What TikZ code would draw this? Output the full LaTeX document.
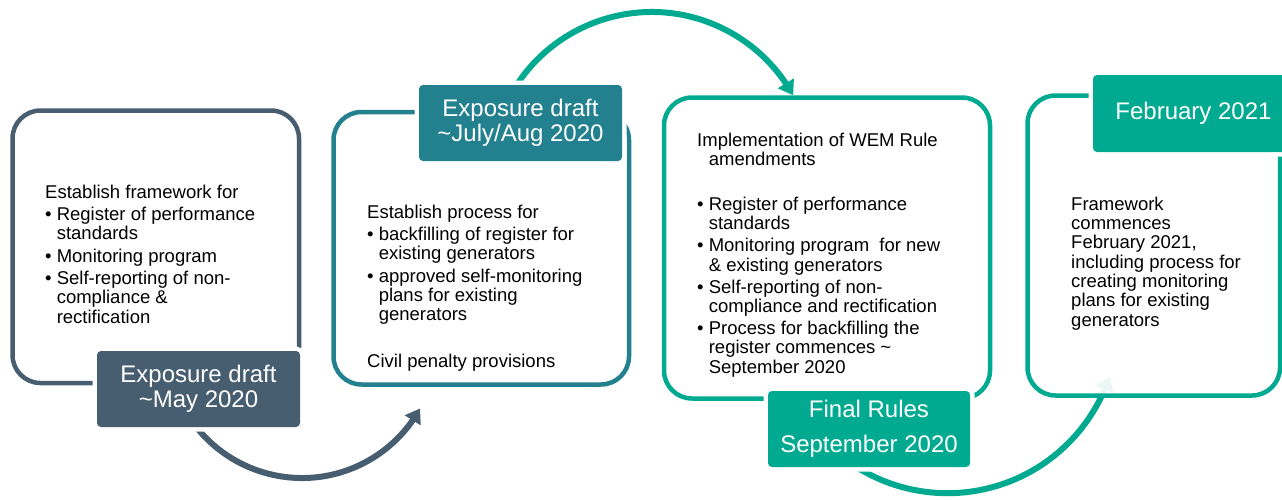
\documentclass[tikz,border=0pt]{standalone}
\usepackage{fontspec}
\setmainfont{Liberation Sans}
\usetikzlibrary{arrows.meta,bending}
\definecolor{slate}{RGB}{71,93,112}
\definecolor{tealb}{RGB}{35,128,143}
\definecolor{grn}{RGB}{0,170,144}
\newcommand{\mybul}{\makebox[11.6pt][l]{\textbullet}}
\newcommand{\myind}{\hspace*{11.6pt}}
\begin{document}
\begin{tikzpicture}[x=1pt,y=-1pt,
  panel/.style={draw=#1, line width=4.5pt, rounded corners=28pt, fill=white, inner sep=0pt},
  datebox/.style={fill=#1, text=white, rounded corners=4pt, inner sep=0pt, align=center,
    font=\fontsize{24pt}{25pt}\selectfont, preaction={draw=white, line width=9pt}},
  body/.style={anchor=north west, inner sep=0pt, align=left, text=black,
    font=\fontsize{18.5pt}{19.3pt}\selectfont},
  curvearrow/.style={draw=#1, line width=6pt, -{Triangle[length=14pt,width=18pt]}}
]
\useasboundingbox (0,0) rectangle (1282,499);
% panels
\node[panel=slate, minimum width=286.5pt, minimum height=272.5pt] (b1) at (155.75,246.75) {};
\node[panel=tealb, minimum width=295.5pt, minimum height=272.5pt] (b2) at (481.25,248.25) {};
\node[panel=grn, minimum width=326pt, minimum height=301pt] (b3) at (827,248) {};
% curved arrows
\coordinate (c1) at (302,343);
\coordinate (c2) at (651.8,173.6);
\coordinate (c3) at (947.4,322.2);
\draw[curvearrow=slate] (c1) ++(148:135) arc[start angle=148, end angle=29, radius=135];
\draw[curvearrow=grn] (c2) ++(205:161.6) arc[start angle=205, end angle=331, radius=161.6];
\draw[curvearrow=grn] (c3) ++(130:171) arc[start angle=130, end angle=18.5, radius=171];
\node[panel=grn, fill opacity=0.92, minimum width=252.5pt, minimum height=300pt] (b4) at (1153.75,245.5) {};
% date labels
\node[datebox=slate, minimum width=203pt, minimum height=76pt] (l1) at (198.5,389) {Exposure draft\\\textasciitilde May 2020};
\node[datebox=tealb, minimum width=203pt, minimum height=76pt] (l2) at (520.5,123) {Exposure draft\\\textasciitilde July/Aug 2020};
\node[datebox=grn, minimum width=202pt, minimum height=76pt] (l3) at (869,429) {Final Rules\\[10pt]September 2020};
\node[datebox=grn, minimum width=201pt, minimum height=77pt] (l4) at (1193.5,113.5) {February 2021};
% texts
\node[body] (t1) at (45,184.5) {\strut Establish framework for\\[3pt]
\mybul Register of performance\\
\myind standards\\[3pt]
\mybul Monitoring program\\[3pt]
\mybul Self-reporting of non-\\
\myind compliance \&\\
\myind rectification};
\node[body] (t2) at (367,204.5) {\strut Establish process for\\[3pt]
\mybul backfilling of register for\\
\myind existing generators\\[3pt]
\mybul approved self-monitoring\\
\myind plans for existing\\
\myind generators\\[27.7pt]
Civil penalty provisions};
\node[body] (t3) at (697,132.5) {\strut Implementation of WEM Rule\\
\myind amendments\\[25.7pt]
\mybul Register of performance\\
\myind standards\\[2.7pt]
\mybul Monitoring program\ \ for new\\
\myind \& existing generators\\[2.7pt]
\mybul Self-reporting of non-\\
\myind compliance and rectification\\[2.7pt]
\mybul Process for backfilling the\\
\myind register commences \textasciitilde\\
\myind September 2020};
\node[body] (t4) at (1071,196.5) {\strut Framework\\
commences\\
February 2021,\\
including process for\\
creating monitoring\\
plans for existing\\
generators};
\end{tikzpicture}
\end{document}
